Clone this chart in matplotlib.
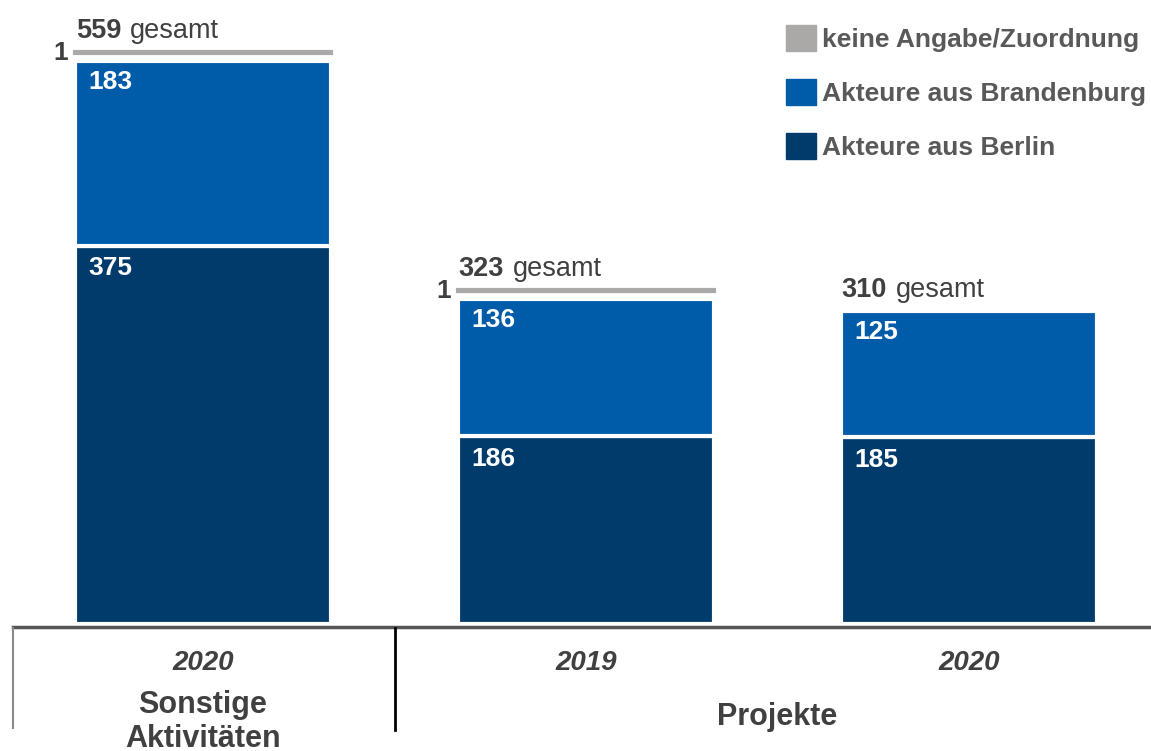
import matplotlib.pyplot as plt
import matplotlib.transforms as mtransforms
from matplotlib.lines import Line2D
from matplotlib.patches import Patch

plt.rcParams['font.family'] = ['Liberation Sans', 'DejaVu Sans']

# data
years = ['2020', '2019', '2020']
groups = ['Sonstige\nAktivitäten', 'Projekte']
berlin = [375, 186, 185]
brandenburg = [183, 136, 125]
keine = [1, 1, 0]
totals = [559, 323, 310]

c_berlin = '#003b6c'
c_brb = '#005ba9'
c_grey = '#aba8a8'
c_text = '#404040'

W, H = 1151, 751
fig = plt.figure(figsize=(W / 100, H / 100), dpi=100)
ax = fig.add_axes([0, 127 / H, 1, 624 / H])

x = list(range(len(years)))
width = 0.668

ax.bar(x, berlin, width, color=c_berlin, edgecolor='white', linewidth=3, zorder=2)
ax.bar(x, brandenburg, width, bottom=berlin, color=c_brb, edgecolor='white', linewidth=3, zorder=2)
bottoms = [b + r for b, r in zip(berlin, brandenburg)]
grey = ax.bar(x, keine, width, bottom=bottoms, color=c_grey, edgecolor=c_grey, linewidth=3, zorder=3)
# lift the thin grey segment a little so it sits apart from the blue block
shift = mtransforms.offset_copy(ax.transData, fig=fig, x=0, y=6, units='points')
for p, k in zip(grey, keine):
    p.set_transform(shift)
    if k == 0:
        p.set_visible(False)

ax.set_xlim(-0.530, 2.475)
ax.set_ylim(0, 618.4)

# value labels inside segments
for i in x:
    left = i - width / 2
    ax.annotate(str(berlin[i]), (left, berlin[i]), xytext=(9.5, -16), textcoords='offset points',
                color='white', fontsize=19, fontweight='bold', va='center', ha='left', zorder=4)
    ax.annotate(str(brandenburg[i]), (left, bottoms[i]), xytext=(9.5, -15), textcoords='offset points',
                color='white', fontsize=19, fontweight='bold', va='center', ha='left', zorder=4)
    if keine[i]:
        ax.annotate(str(keine[i]), (left, bottoms[i]), xytext=(-5, 6), textcoords='offset points',
                    color=c_text, fontsize=19, fontweight='bold', va='center', ha='left' if False else 'right')
    off = 15 + (6 if keine[i] else 0)
    t = ax.annotate(str(totals[i]), (left, bottoms[i] + keine[i]), xytext=(0.5, off), textcoords='offset points',
                    color=c_text, fontsize=19.5, fontweight='bold', va='center', ha='left')
    ax.annotate('gesamt', xy=(1, 0), xycoords=t, xytext=(6, 0), textcoords='offset points',
                color=c_text, fontsize=19.5, va='bottom', ha='left')

ax.set_xticks(x, years)
ax.tick_params(axis='x', length=0, pad=19)
for lab in ax.get_xticklabels():
    lab.set_fontsize(20)
    lab.set_fontweight('bold')
    lab.set_fontstyle('italic')
    lab.set_color(c_text)
ax.set_yticks([])
for s in ax.spines.values():
    s.set_visible(False)

tr = ax.get_xaxis_transform()
ax.text(0, -0.105, groups[0], transform=tr, ha='center', va='top', fontsize=22,
        fontweight='bold', color=c_text, linespacing=1.18)
ax.text(1.5, -0.149, groups[1], transform=tr, ha='center', va='center', fontsize=22,
        fontweight='bold', color=c_text)

# axis base line and group separators
fig.add_artist(Line2D([13 / W, 1], [1 - 627 / H] * 2, color='#555555', lw=2.5))
fig.add_artist(Line2D([13 / W] * 2, [1 - 628 / H, 1 - 728 / H], color='#8a8a8a', lw=1.5))
fig.add_artist(Line2D([395 / W] * 2, [1 - 628 / H, 1 - 730 / H], color='black', lw=2))

handles = [Patch(color=c_grey), Patch(color=c_brb), Patch(color=c_berlin)]
labels = ['keine Angabe/Zuordnung', 'Akteure aus Brandenburg', 'Akteure aus Berlin']
leg = ax.legend(handles, labels, loc='upper left', bbox_to_anchor=(786 / W, 1 - 25 / H),
                bbox_transform=fig.transFigure, frameon=False, fontsize=19,
                handlelength=1.15, handleheight=1.15, handletextpad=0.2,
                labelspacing=1.02, borderpad=0, borderaxespad=0)
for txt in leg.get_texts():
    txt.set_color('#595959')
    txt.set_fontweight('bold')

fig.savefig('out.png', dpi=100)
